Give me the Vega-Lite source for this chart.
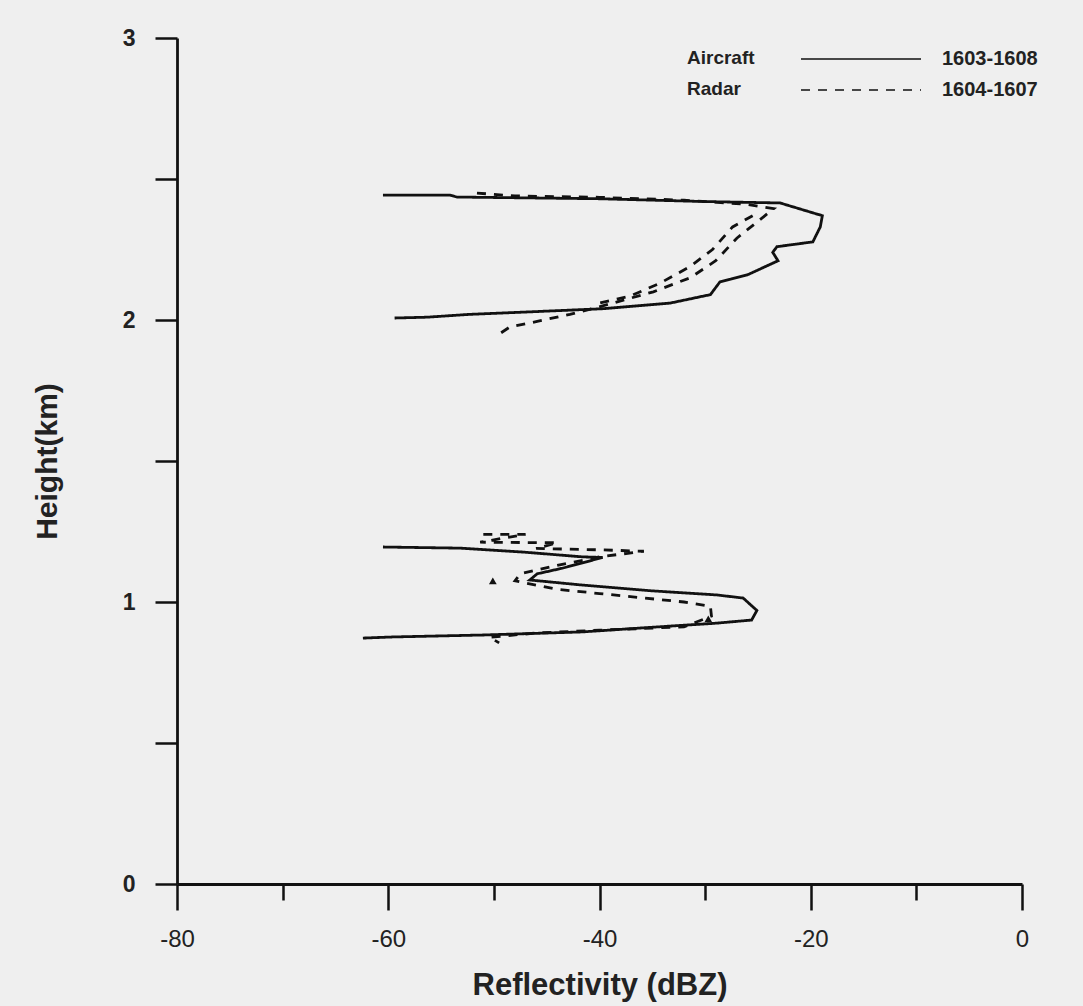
{
  "$schema": "https://vega.github.io/schema/vega-lite/v6.json",
  "width": 845,
  "height": 846,
  "autosize": {"type": "none"},
  "padding": {"left": 177, "top": 38, "right": 61, "bottom": 122},
  "background": "#efefef",
  "config": {
    "view": {"stroke": null},
    "font": "Liberation Sans"
  },
  "datasets": {
    "profiles": [
      {"series": "Aircraft", "period": "1603-1608", "seg": "A1", "ord": 1, "dbz": -60.5, "km": 2.443},
      {"series": "Aircraft", "period": "1603-1608", "seg": "A1", "ord": 2, "dbz": -54.2, "km": 2.443},
      {"series": "Aircraft", "period": "1603-1608", "seg": "A1", "ord": 3, "dbz": -53.5, "km": 2.436},
      {"series": "Aircraft", "period": "1603-1608", "seg": "A1", "ord": 4, "dbz": -40, "km": 2.43},
      {"series": "Aircraft", "period": "1603-1608", "seg": "A1", "ord": 5, "dbz": -30, "km": 2.42},
      {"series": "Aircraft", "period": "1603-1608", "seg": "A1", "ord": 6, "dbz": -22.9, "km": 2.415},
      {"series": "Aircraft", "period": "1603-1608", "seg": "A1", "ord": 7, "dbz": -19.8, "km": 2.38},
      {"series": "Aircraft", "period": "1603-1608", "seg": "A1", "ord": 8, "dbz": -18.9, "km": 2.37},
      {"series": "Aircraft", "period": "1603-1608", "seg": "A1", "ord": 9, "dbz": -19.1, "km": 2.33},
      {"series": "Aircraft", "period": "1603-1608", "seg": "A1", "ord": 10, "dbz": -19.8, "km": 2.277},
      {"series": "Aircraft", "period": "1603-1608", "seg": "A1", "ord": 11, "dbz": -23.2, "km": 2.26},
      {"series": "Aircraft", "period": "1603-1608", "seg": "A1", "ord": 12, "dbz": -23.6, "km": 2.24},
      {"series": "Aircraft", "period": "1603-1608", "seg": "A1", "ord": 13, "dbz": -23.1, "km": 2.21},
      {"series": "Aircraft", "period": "1603-1608", "seg": "A1", "ord": 14, "dbz": -26.0, "km": 2.16},
      {"series": "Aircraft", "period": "1603-1608", "seg": "A1", "ord": 15, "dbz": -28.6, "km": 2.135},
      {"series": "Aircraft", "period": "1603-1608", "seg": "A1", "ord": 16, "dbz": -29.5, "km": 2.09},
      {"series": "Aircraft", "period": "1603-1608", "seg": "A1", "ord": 17, "dbz": -33.3, "km": 2.06},
      {"series": "Aircraft", "period": "1603-1608", "seg": "A1", "ord": 18, "dbz": -39.7, "km": 2.04},
      {"series": "Aircraft", "period": "1603-1608", "seg": "A1", "ord": 19, "dbz": -45.9, "km": 2.03},
      {"series": "Aircraft", "period": "1603-1608", "seg": "A1", "ord": 20, "dbz": -52.3, "km": 2.02},
      {"series": "Aircraft", "period": "1603-1608", "seg": "A1", "ord": 21, "dbz": -56.3, "km": 2.01},
      {"series": "Aircraft", "period": "1603-1608", "seg": "A1", "ord": 22, "dbz": -59.4, "km": 2.007},

      {"series": "Aircraft", "period": "1603-1608", "seg": "A2", "ord": 1, "dbz": -60.5, "km": 1.195},
      {"series": "Aircraft", "period": "1603-1608", "seg": "A2", "ord": 2, "dbz": -53.2, "km": 1.191},
      {"series": "Aircraft", "period": "1603-1608", "seg": "A2", "ord": 3, "dbz": -47.2, "km": 1.177},
      {"series": "Aircraft", "period": "1603-1608", "seg": "A2", "ord": 4, "dbz": -41.6, "km": 1.16},
      {"series": "Aircraft", "period": "1603-1608", "seg": "A2", "ord": 5, "dbz": -39.7, "km": 1.158},
      {"series": "Aircraft", "period": "1603-1608", "seg": "A2", "ord": 6, "dbz": -43.5, "km": 1.12},
      {"series": "Aircraft", "period": "1603-1608", "seg": "A2", "ord": 7, "dbz": -45.9, "km": 1.10},
      {"series": "Aircraft", "period": "1603-1608", "seg": "A2", "ord": 8, "dbz": -46.6, "km": 1.078},
      {"series": "Aircraft", "period": "1603-1608", "seg": "A2", "ord": 9, "dbz": -41.6, "km": 1.06},
      {"series": "Aircraft", "period": "1603-1608", "seg": "A2", "ord": 10, "dbz": -35.2, "km": 1.04},
      {"series": "Aircraft", "period": "1603-1608", "seg": "A2", "ord": 11, "dbz": -28.9, "km": 1.025},
      {"series": "Aircraft", "period": "1603-1608", "seg": "A2", "ord": 12, "dbz": -26.4, "km": 1.014},
      {"series": "Aircraft", "period": "1603-1608", "seg": "A2", "ord": 13, "dbz": -25.1, "km": 0.97},
      {"series": "Aircraft", "period": "1603-1608", "seg": "A2", "ord": 14, "dbz": -25.6, "km": 0.936},
      {"series": "Aircraft", "period": "1603-1608", "seg": "A2", "ord": 15, "dbz": -28.9, "km": 0.925},
      {"series": "Aircraft", "period": "1603-1608", "seg": "A2", "ord": 16, "dbz": -35.2, "km": 0.91},
      {"series": "Aircraft", "period": "1603-1608", "seg": "A2", "ord": 17, "dbz": -41.6, "km": 0.894},
      {"series": "Aircraft", "period": "1603-1608", "seg": "A2", "ord": 18, "dbz": -51.0, "km": 0.883},
      {"series": "Aircraft", "period": "1603-1608", "seg": "A2", "ord": 19, "dbz": -59.6, "km": 0.876},
      {"series": "Aircraft", "period": "1603-1608", "seg": "A2", "ord": 20, "dbz": -62.4, "km": 0.872},

      {"series": "Radar", "period": "1604-1607", "seg": "R1", "ord": 1, "dbz": -51.6, "km": 2.45},
      {"series": "Radar", "period": "1604-1607", "seg": "R1", "ord": 2, "dbz": -48, "km": 2.44},
      {"series": "Radar", "period": "1604-1607", "seg": "R1", "ord": 3, "dbz": -40, "km": 2.435},
      {"series": "Radar", "period": "1604-1607", "seg": "R1", "ord": 4, "dbz": -32, "km": 2.425},
      {"series": "Radar", "period": "1604-1607", "seg": "R1", "ord": 5, "dbz": -26, "km": 2.41},
      {"series": "Radar", "period": "1604-1607", "seg": "R1", "ord": 6, "dbz": -23.5, "km": 2.395},
      {"series": "Radar", "period": "1604-1607", "seg": "R1", "ord": 7, "dbz": -24.5, "km": 2.365},
      {"series": "Radar", "period": "1604-1607", "seg": "R1", "ord": 8, "dbz": -27, "km": 2.29},
      {"series": "Radar", "period": "1604-1607", "seg": "R1", "ord": 9, "dbz": -29, "km": 2.21},
      {"series": "Radar", "period": "1604-1607", "seg": "R1", "ord": 10, "dbz": -31.4, "km": 2.15},
      {"series": "Radar", "period": "1604-1607", "seg": "R1", "ord": 11, "dbz": -34.9, "km": 2.10},
      {"series": "Radar", "period": "1604-1607", "seg": "R1", "ord": 12, "dbz": -39.7, "km": 2.05},
      {"series": "Radar", "period": "1604-1607", "seg": "R1", "ord": 13, "dbz": -42.8, "km": 2.02},
      {"series": "Radar", "period": "1604-1607", "seg": "R1", "ord": 14, "dbz": -45.9, "km": 1.995},
      {"series": "Radar", "period": "1604-1607", "seg": "R1", "ord": 15, "dbz": -48.5, "km": 1.975},
      {"series": "Radar", "period": "1604-1607", "seg": "R1", "ord": 16, "dbz": -49.5, "km": 1.95},

      {"series": "Radar", "period": "1604-1607", "seg": "R2", "ord": 1, "dbz": -25.5, "km": 2.37},
      {"series": "Radar", "period": "1604-1607", "seg": "R2", "ord": 2, "dbz": -27.4, "km": 2.33},
      {"series": "Radar", "period": "1604-1607", "seg": "R2", "ord": 3, "dbz": -29.3, "km": 2.25},
      {"series": "Radar", "period": "1604-1607", "seg": "R2", "ord": 4, "dbz": -31.4, "km": 2.19},
      {"series": "Radar", "period": "1604-1607", "seg": "R2", "ord": 5, "dbz": -34.3, "km": 2.13},
      {"series": "Radar", "period": "1604-1607", "seg": "R2", "ord": 6, "dbz": -37.1, "km": 2.085},
      {"series": "Radar", "period": "1604-1607", "seg": "R2", "ord": 7, "dbz": -40, "km": 2.06},

      {"series": "Radar", "period": "1604-1607", "seg": "R3", "ord": 1, "dbz": -51, "km": 1.24},
      {"series": "Radar", "period": "1604-1607", "seg": "R3", "ord": 2, "dbz": -47, "km": 1.24},
      {"series": "Radar", "period": "1604-1607", "seg": "R3", "ord": 3, "dbz": -51.3, "km": 1.212},
      {"series": "Radar", "period": "1604-1607", "seg": "R3", "ord": 4, "dbz": -44, "km": 1.21},
      {"series": "Radar", "period": "1604-1607", "seg": "R3", "ord": 5, "dbz": -46, "km": 1.19},
      {"series": "Radar", "period": "1604-1607", "seg": "R3", "ord": 6, "dbz": -40, "km": 1.185},
      {"series": "Radar", "period": "1604-1607", "seg": "R3", "ord": 7, "dbz": -35.8, "km": 1.18},
      {"series": "Radar", "period": "1604-1607", "seg": "R3", "ord": 8, "dbz": -40, "km": 1.16},
      {"series": "Radar", "period": "1604-1607", "seg": "R3", "ord": 9, "dbz": -44, "km": 1.13},
      {"series": "Radar", "period": "1604-1607", "seg": "R3", "ord": 10, "dbz": -47.5, "km": 1.10},
      {"series": "Radar", "period": "1604-1607", "seg": "R3", "ord": 11, "dbz": -48, "km": 1.075},
      {"series": "Radar", "period": "1604-1607", "seg": "R3", "ord": 12, "dbz": -44, "km": 1.045},
      {"series": "Radar", "period": "1604-1607", "seg": "R3", "ord": 13, "dbz": -40, "km": 1.03},
      {"series": "Radar", "period": "1604-1607", "seg": "R3", "ord": 14, "dbz": -36, "km": 1.015},
      {"series": "Radar", "period": "1604-1607", "seg": "R3", "ord": 15, "dbz": -32, "km": 1.0},
      {"series": "Radar", "period": "1604-1607", "seg": "R3", "ord": 16, "dbz": -29.5, "km": 0.985},
      {"series": "Radar", "period": "1604-1607", "seg": "R3", "ord": 17, "dbz": -29.4, "km": 0.95},
      {"series": "Radar", "period": "1604-1607", "seg": "R3", "ord": 18, "dbz": -32, "km": 0.912},
      {"series": "Radar", "period": "1604-1607", "seg": "R3", "ord": 19, "dbz": -40, "km": 0.9},
      {"series": "Radar", "period": "1604-1607", "seg": "R3", "ord": 20, "dbz": -46, "km": 0.89},
      {"series": "Radar", "period": "1604-1607", "seg": "R3", "ord": 21, "dbz": -50.4, "km": 0.875},
      {"series": "Radar", "period": "1604-1607", "seg": "R3", "ord": 22, "dbz": -49.5, "km": 0.855}
    ],
    "markers": [
      {"dbz": -50.1, "km": 1.075},
      {"dbz": -29.7, "km": 0.94}
    ]
  },
  "layer": [
    {
      "data": {"name": "profiles"},
      "mark": {"type": "line", "strokeWidth": 2.8, "clip": false},
      "encoding": {
        "x": {
          "field": "dbz", "type": "quantitative",
          "scale": {"domain": [-80, 0], "nice": false, "zero": false},
          "axis": {
            "title": "Reflectivity (dBZ)",
            "values": [-80, -70, -60, -50, -40, -30, -20, -10, 0],
            "labelExpr": "datum.value % 20 === 0 ? toString(datum.value) : ''",
            "grid": false,
            "domainColor": "#111", "domainWidth": 2.8,
            "tickColor": "#111", "tickWidth": 2.5,
            "tickSize": {"condition": {"test": "datum.value % 20 === 0", "value": 26}, "value": 16},
            "labelPadding": 17,
            "labelFont": "Liberation Sans", "labelFontSize": 24, "labelColor": "#222",
            "labelFlush": false,
            "titleFont": "Liberation Sans", "titleFontSize": 31, "titleFontWeight": "bold", "titleColor": "#222",
            "titlePadding": 19
          }
        },
        "y": {
          "field": "km", "type": "quantitative",
          "scale": {"domain": [0, 3], "nice": false, "zero": false},
          "axis": {
            "title": "Height(km)",
            "values": [0, 0.5, 1, 1.5, 2, 2.5, 3],
            "labelExpr": "datum.value % 1 === 0 ? toString(datum.value) : ''",
            "grid": false,
            "domainColor": "#111", "domainWidth": 2.8,
            "tickColor": "#111", "tickWidth": 2.5, "tickSize": 22,
            "labelPadding": 20,
            "labelFont": "Liberation Sans", "labelFontSize": 23, "labelFontWeight": "bold", "labelColor": "#222",
            "labelFlush": false,
            "titleFont": "Liberation Sans", "titleFontSize": 30, "titleFontWeight": "bold", "titleColor": "#222",
            "titlePadding": 60
          }
        },
        "order": {"field": "ord", "type": "quantitative"},
        "detail": {"field": "seg"},
        "color": {
          "field": "series", "type": "nominal",
          "scale": {"range": ["#111", "#111"]},
          "legend": {
            "orient": "none", "legendX": 491, "legendY": 10,
            "title": null, "symbolOpacity": 0, "symbolSize": 0, "symbolStrokeWidth": 0,
            "labelOffset": 0, "labelFont": "Liberation Sans", "labelFontSize": 19, "labelFontWeight": "bold",
            "labelColor": "#222", "rowPadding": 11, "padding": 0
          }
        },
        "strokeDash": {
          "field": "period", "type": "nominal",
          "scale": {"range": [[1, 0], [9, 8]]},
          "legend": {
            "orient": "none", "legendX": 673, "legendY": 10,
            "title": null, "symbolType": "M-6,0H6", "symbolSize": 400,
            "symbolStrokeColor": "#111", "symbolStrokeWidth": 1.5, "symbolFillColor": "transparent",
            "labelOffset": 70, "labelFont": "Liberation Sans", "labelFontSize": 20, "labelFontWeight": "bold",
            "labelColor": "#222", "rowPadding": 10, "padding": 0
          }
        }
      }
    },
    {
      "data": {"name": "markers"},
      "mark": {"type": "point", "shape": "triangle-up", "filled": true, "color": "#111", "size": 60, "opacity": 1},
      "encoding": {
        "x": {"field": "dbz", "type": "quantitative"},
        "y": {"field": "km", "type": "quantitative"}
      }
    }
  ]
}
